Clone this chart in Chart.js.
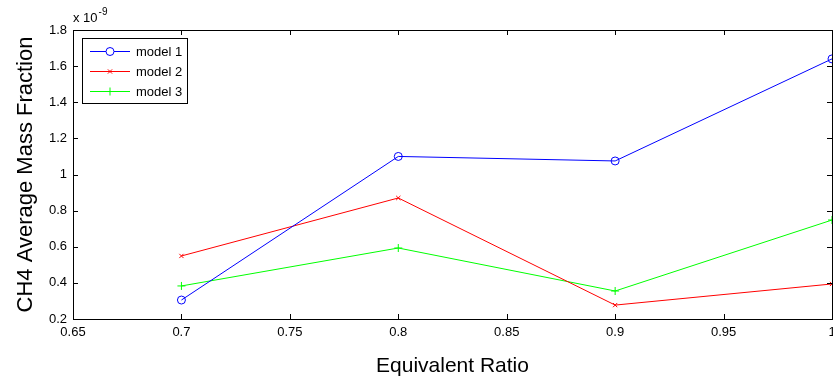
<!DOCTYPE html>
<html>
<head>
<meta charset="utf-8">
<script src="https://cdn.jsdelivr.net/npm/chart.js@4/dist/chart.umd.min.js"></script>
<style>
  html, body { margin: 0; padding: 0; background: #fff; }
  #wrap { width: 833px; height: 383px; }
</style>
</head>
<body>
<div id="wrap"><canvas id="chart" width="833" height="383"></canvas></div>
<script>
// equivalent ratio on the x axis
const ratios = [0.7, 0.8, 0.9, 1.0];
// CH4 average mass fraction (x 1e-9)
const model1 = [0.305, 1.10, 1.075, 1.64];
const model2 = [0.549, 0.87, 0.277, 0.394];
const model3 = [0.383, 0.593, 0.355, 0.748];
const seriesNames = ['model 1', 'model 2', 'model 3'];
const seriesColors = ['#0000ff', '#ff0000', '#00ff00'];
const seriesMarkers = ['circle', 'crossRot', 'cross'];

const font = 'Liberation Sans, Arial, sans-serif';

function toPoints(values) {
  return ratios.map((x, i) => ({ x: x, y: values[i] }));
}

function fmt(v) {
  return String(Number(v.toFixed(2)));
}

// box around the plot, inward ticks, exponent and legend like MATLAB
const matlabLook = {
  id: 'matlabLook',
  afterDraw(chart) {
    const ctx = chart.ctx;
    const a = chart.chartArea;
    const xs = chart.scales.x;
    const ys = chart.scales.y;
    ctx.save();
    ctx.strokeStyle = '#000';
    ctx.lineWidth = 1;
    ctx.strokeRect(Math.round(a.left) + 0.5, Math.round(a.top) + 0.5,
      Math.round(a.right - a.left), Math.round(a.bottom - a.top));
    const len = 5;
    ctx.beginPath();
    xs.ticks.forEach(t => {
      const px = Math.round(xs.getPixelForValue(t.value)) + 0.5;
      ctx.moveTo(px, a.bottom); ctx.lineTo(px, a.bottom - len);
      ctx.moveTo(px, a.top); ctx.lineTo(px, a.top + len);
    });
    ys.ticks.forEach(t => {
      const py = Math.round(ys.getPixelForValue(t.value)) + 0.5;
      ctx.moveTo(a.left, py); ctx.lineTo(a.left + len, py);
      ctx.moveTo(a.right, py); ctx.lineTo(a.right - len, py);
    });
    ctx.stroke();

    // exponent label
    ctx.fillStyle = '#000';
    ctx.textBaseline = 'alphabetic';
    ctx.font = '13px ' + font;
    ctx.fillText('x 10', a.left, a.top - 8);
    const w = ctx.measureText('x 10').width;
    ctx.font = '10px ' + font;
    ctx.fillText('-9', a.left + w + 1, a.top - 15);

    // legend
    const lx = a.left + 9, ly = a.top + 8, lw = 105, lh = 65;
    ctx.fillStyle = '#fff';
    ctx.fillRect(lx, ly, lw, lh);
    ctx.strokeStyle = '#000';
    ctx.strokeRect(lx + 0.5, ly + 0.5, lw, lh);
    chart.data.datasets.forEach((ds, i) => {
      const y = ly + 13 + i * 20;
      ctx.strokeStyle = ds.borderColor;
      ctx.lineWidth = 1;
      ctx.beginPath();
      ctx.moveTo(lx + 8, y + 0.5); ctx.lineTo(lx + 48, y + 0.5);
      ctx.stroke();
      Chart.helpers.drawPoint(ctx, {
        pointStyle: ds.pointStyle, radius: ds.pointRadius, borderWidth: 1
      }, lx + 28, y + 0.5);
      ctx.fillStyle = '#000';
      ctx.font = '13px ' + font;
      ctx.textBaseline = 'middle';
      ctx.fillText(ds.label, lx + 54, y + 1);
    });
    ctx.restore();
  }
};

const datasets = [model1, model2, model3].map((vals, i) => ({
  label: seriesNames[i],
  data: toPoints(vals),
  borderColor: seriesColors[i],
  backgroundColor: 'rgba(0,0,0,0)',
  borderWidth: 1,
  pointStyle: seriesMarkers[i],
  pointRadius: i === 1 ? 3 : 4,
  pointBorderWidth: 1,
  pointBackgroundColor: 'rgba(0,0,0,0)',
  pointBorderColor: seriesColors[i],
  tension: 0,
  clip: false
}));

new Chart(document.getElementById('chart'), {
  type: 'line',
  data: { datasets },
  options: {
    responsive: false,
    animation: false,
    layout: { autoPadding: false, padding: { left: 0, right: 1, top: 30, bottom: 0 } },
    plugins: { legend: { display: false }, tooltip: { enabled: false } },
    scales: {
      x: {
        type: 'linear',
        min: 0.65,
        max: 1,
        grid: { display: false, drawTicks: false },
        border: { display: true, color: '#000' },
        ticks: {
          stepSize: 0.05,
          color: '#000',
          padding: 6,
          maxRotation: 0,
          autoSkip: false,
          font: { family: font, size: 13 },
          callback: v => fmt(v)
        },
        title: {
          display: true,
          text: 'Equivalent Ratio',
          color: '#000',
          font: { family: font, size: 21 },
          padding: { top: 12, bottom: 4 }
        },
        afterFit: s => { s.height = 64; s.paddingRight = 0; s.paddingLeft = 0; }
      },
      y: {
        type: 'linear',
        min: 0.2,
        max: 1.8,
        grid: { display: false, drawTicks: false },
        border: { display: true, color: '#000' },
        ticks: {
          stepSize: 0.2,
          color: '#000',
          padding: 6,
          font: { family: font, size: 13 },
          callback: v => fmt(v)
        },
        title: {
          display: true,
          text: 'CH4 Average Mass Fraction',
          color: '#000',
          font: { family: font, size: 22 },
          padding: { top: 13, bottom: 4 }
        },
        afterFit: s => { s.width = 73; s.paddingTop = 0; s.paddingBottom = 0; }
      }
    }
  },
  plugins: [matlabLook]
});
</script>
</body>
</html>
